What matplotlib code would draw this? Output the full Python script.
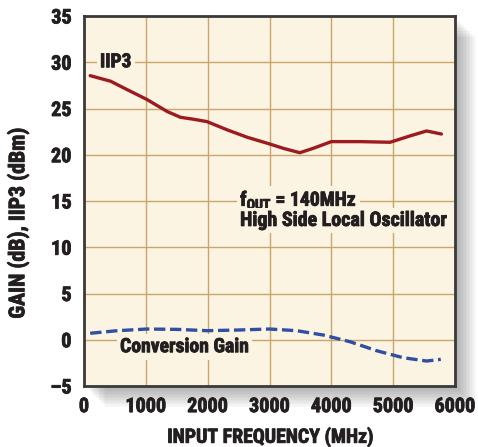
import matplotlib
matplotlib.use("Agg")
import matplotlib.pyplot as plt
from matplotlib.patches import Rectangle
from matplotlib import font_manager
import matplotlib.patheffects as pe

# ---- data ----
iip3_freq = [100, 430, 650, 1010, 1350, 1560, 1780, 1990, 2320, 2640, 3010, 3220, 3490,
             3710, 4000, 4460, 4950, 5270, 5540, 5780]
iip3_val = [28.55, 27.95, 27.2, 26.0, 24.66, 24.05, 23.83, 23.58, 22.68, 21.89, 21.15, 20.7,
            20.22, 20.7, 21.42, 21.42, 21.35, 22.03, 22.57, 22.24]
gain_freq = [100, 540, 1020, 1510, 1990, 2480, 3000, 3440, 3870, 4300, 4730, 5160, 5540, 5770]
gain_val = [0.70, 0.98, 1.16, 1.12, 0.98, 1.05, 1.16, 0.98, 0.51, -0.21, -1.18, -1.94, -2.3, -2.12]
x_ticks = [0, 1000, 2000, 3000, 4000, 5000, 6000]
y_ticks = [-5, 0, 5, 10, 15, 20, 25, 30, 35]
y_tick_labels = ["\u20135", "0", "5", "10", "15", "20", "25", "30", "35"]

names = {f.name for f in font_manager.fontManager.ttflist}
fam = "DejaVu Sans"
for cand in ["Liberation Sans Narrow", "Roboto Condensed", "Open Sans Condensed",
             "Noto Sans Condensed", "DejaVu Sans Condensed", "Liberation Sans"]:
    if cand in names:
        fam = cand
        break
plt.rcParams["font.family"] = [fam, "DejaVu Sans"]
plt.rcParams["font.weight"] = "bold"
plt.rcParams["mathtext.fontset"] = "custom"
plt.rcParams["mathtext.bf"] = fam + ":bold"
plt.rcParams["mathtext.rm"] = fam + ":bold"

BG = "#FCF4E3"
GRID = "#C9A46C"
TXT = "#231F20"
heavy = [pe.withStroke(linewidth=0.6, foreground=TXT)]

fig = plt.figure(figsize=(4.78, 4.47), dpi=100)
ax = fig.add_axes([84/478, 1-386/447, 371/478, 370/447])

# drop shadow
for i in range(14):
    d = (i + 1) * 1.5
    fig.patches.append(Rectangle((84/478 + d/478, 1-386/447 - d/447), 371/478, 370/447,
                                 transform=fig.transFigure, facecolor="#000000",
                                 alpha=0.025, edgecolor="none", zorder=-10))

ax.set_facecolor(BG)
ax.set_xlim(0, 6000)
ax.set_ylim(-5, 35)
ax.set_xticks(x_ticks)
ax.set_yticks(y_ticks)
ax.set_yticklabels(y_tick_labels)
ax.grid(True, color=GRID, linewidth=1.0)
ax.set_axisbelow(True)
ax.tick_params(length=0, labelsize=14.5, colors=TXT)
ax.tick_params(axis="y", pad=9)
ax.tick_params(axis="x", pad=8)
for lab in ax.get_xticklabels() + ax.get_yticklabels():
    lab.set_fontweight("bold")
    lab.set_path_effects(heavy)
for s in ax.spines.values():
    s.set_color("#3a3a3a")
    s.set_linewidth(2)

ax.plot(iip3_freq, iip3_val, color="#9B1B20", linewidth=2.4, solid_capstyle="round", zorder=3)
ax.plot(gain_freq, gain_val, color="#2E4FA2", linewidth=2.4, dashes=(3.4, 1.4), zorder=3)

bbox = dict(facecolor=BG, edgecolor="none", pad=2)
texts = []
texts.append((ax.text(259, 30, "IIP3", fontsize=12, fontweight="bold", color=TXT,
                      va="center", ha="left", bbox=bbox, zorder=4), 31))
texts.append((ax.text(2524, 15.1, r"f$_{\mathbf{OUT}}$ = 140MHz", fontsize=12, fontweight="bold",
                      color=TXT, va="center", ha="left", bbox=bbox, zorder=4), 117))
texts.append((ax.text(2524, 12.9, "High Side Local Oscillator", fontsize=12, fontweight="bold",
                      color=TXT, va="center", ha="left", bbox=bbox, zorder=4), 208))
texts.append((ax.text(583, -0.75, "Conversion Gain", fontsize=12, fontweight="bold", color=TXT,
                      va="center", ha="left", bbox=bbox, zorder=4), 129))
xlab = fig.text(270/478, 1-437/447, "INPUT FREQUENCY (MHz)", fontsize=12, fontweight="bold",
                color=TXT, ha="center", va="center")
texts.append((xlab, 206))
ylab = fig.text(18/478, 1-223/447, "GAIN (dB), IIP3 (dBm)", fontsize=12, fontweight="bold",
                color=TXT, ha="center", va="center", rotation=90)
for t, _ in texts:
    t.set_path_effects(heavy)
ylab.set_path_effects(heavy)

fig.canvas.draw()
r = fig.canvas.get_renderer()
for t, w in texts:
    cur = t.get_window_extent(r).width
    t.set_fontsize(min(20, t.get_fontsize() * w / cur))
ylab.set_fontsize(xlab.get_fontsize() * 1.1)

fig.savefig("out.png", dpi=100, facecolor="white")
